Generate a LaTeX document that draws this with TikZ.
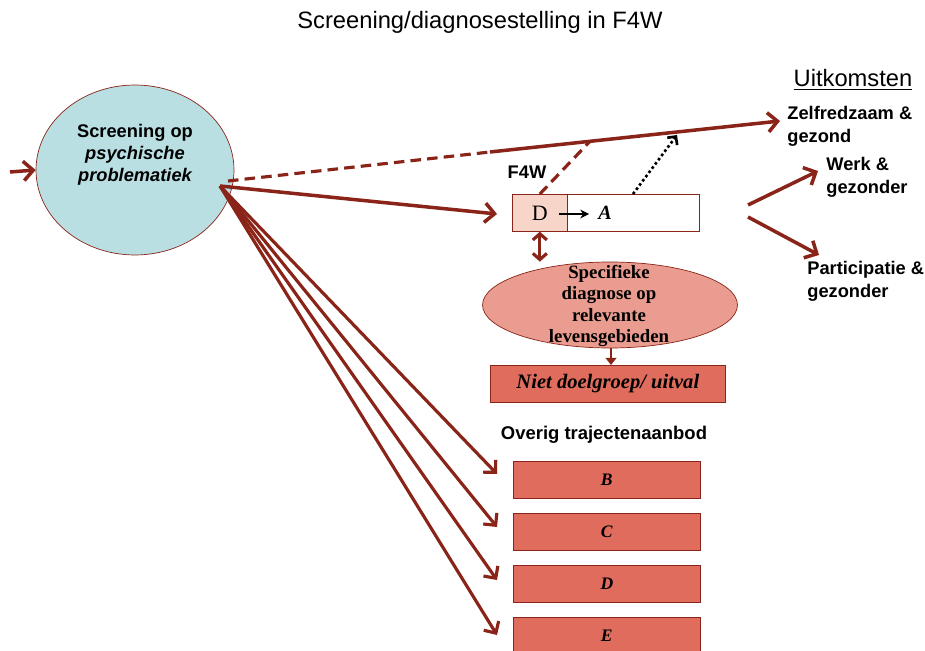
\documentclass[tikz,border=0pt]{standalone}
\usepackage{fontspec}
\setmainfont{Liberation Sans}
\newfontfamily\serifft{Liberation Serif}
\usetikzlibrary{arrows.meta,shapes.geometric}
\definecolor{dred}{RGB}{138,36,24}
\definecolor{scrblue}{RGB}{185,223,227}
\definecolor{dpeach}{RGB}{248,213,201}
\definecolor{diagred}{RGB}{233,156,143}
\definecolor{boxred}{RGB}{224,108,94}
\begin{document}
\begin{tikzpicture}[x=0.02cm,y=-0.02cm,
    arr/.style={draw=dred, line width=2pt, -{Straight Barb[length=5.5pt,width=11pt,line width=2pt]}},
    sarr/.style={draw=dred, line width=1.8pt, -{Straight Barb[length=5pt,width=10pt,line width=1.8pt]}},
    lbl/.style={font=\fontsize{10.4}{13}\selectfont\bfseries, align=left, inner sep=0pt},
    redbox/.style={draw=dred, fill=boxred, minimum width=3.74cm, minimum height=0.74cm, inner sep=0pt,
        font=\serifft\fontsize{10}{12}\selectfont\bfseries\itshape}]
    \useasboundingbox (0,0) rectangle (925,651);
    % titles
    \node[font=\fontsize{13.5}{16}\selectfont] (title) at (480,22) {Screening/diagnosestelling in F4W};
    \node[font=\fontsize{13.5}{16}\selectfont] (uitk) at (853,80) {\underline{Uitkomsten}};
    % screening
    \node[ellipse, draw=dred, fill=scrblue, minimum width=3.96cm, minimum height=3.4cm, inner sep=0pt] (scr) at (135,170) {};
    \node[font=\fontsize{10.4}{12.5}\selectfont\bfseries, align=center, inner sep=0pt] (scrtxt) at (135,155)
        {Screening op\\\itshape psychische\\\itshape problematiek};
    \coordinate (in) at (10,172);
    \draw[arr] (in) -- (scr.west);
    % F4W
    \node[lbl] (f4w) at (527,172) {F4W};
    \node[draw=dred, fill=dpeach, minimum width=1.1cm, minimum height=0.74cm, inner sep=0pt, anchor=north west,
        font=\serifft\fontsize{12.5}{14}\selectfont] (d) at (512,194) {D};
    \node[draw=dred, fill=white, minimum width=2.64cm, minimum height=0.74cm, inner sep=0pt, anchor=north west] (a) at (567,194) {};
    \node[font=\serifft\fontsize{11.5}{13}\selectfont\bfseries\itshape, inner sep=0pt] (atxt) at (605,213) {A};
    \coordinate (dstart) at (559,214);
    \coordinate (dend) at (589,214);
    \draw[-{Stealth[length=5pt,width=5pt]}, semithick] (dstart) -- (dend);
    % diagnose
    \node[ellipse, draw=dred, fill=diagred, minimum width=5.1cm, minimum height=1.72cm, inner sep=0pt] (diag) at (610,305) {};
    \node[font=\serifft\fontsize{10.7}{12.3}\selectfont\bfseries, align=center, inner sep=0pt] (diagtxt) at (609,306)
        {Specifieke\\diagnose op\\relevante\\levensgebieden};
    \draw[draw=dred, line width=1.8pt, {Straight Barb[length=3.5pt,width=8pt]}-{Straight Barb[length=3.5pt,width=8pt]}] (d.south) -- (d.south |- diag.north);
    \node[redbox, minimum width=4.7cm, anchor=north west, font=\serifft\fontsize{11.7}{13}\selectfont\bfseries\itshape] (niet) at (490,365) {Niet doelgroep/ uitval};
    \draw[draw=dred, line width=1.2pt, -{Triangle[length=4pt,width=6pt]}] (611,348) -- (niet.north -| 611,0);
    % overig
    \node[font=\fontsize{10.5}{13}\selectfont\bfseries] (overig) at (604,435) {Overig trajectenaanbod};
    \node[redbox, anchor=north west] (b) at (513,461) {B};
    \node[redbox, anchor=north west] (c) at (513,513) {C};
    \node[redbox, anchor=north west] (dd) at (513,565) {D};
    \node[redbox, anchor=north west] (e) at (513,617) {E};
    % arrows from screening
    \coordinate (fan) at (220,186);
    \draw[arr] (fan) -- (497,214);
    \draw[sarr] (fan) -- (497,474);
    \draw[sarr] (fan) -- (497,527);
    \draw[sarr] (fan) -- (497,580);
    \draw[sarr] (fan) -- (497,635);
    % uitkomsten
    \node[lbl, anchor=west] (zelf) at (787,126) {Zelfredzaam \&\\gezond};
    \node[lbl, anchor=west] (werk) at (826,177) {Werk \&\\gezonder};
    \node[lbl, anchor=west] (part) at (807,281) {Participatie \&\\gezonder};
    \coordinate (brk) at (490,152);
    \coordinate (j) at (590,141.3);
    \draw[draw=dred, line width=1.8pt, dash pattern=on 6pt off 3.5pt] (228,181) -- (brk);
    \draw[arr] (brk) -- (780,121);
    \draw[draw=dred, line width=1.8pt, dash pattern=on 6pt off 3.5pt] (d.north) -- (j);
    \draw[line width=1.5pt, dash pattern=on 1.5pt off 1.5pt, -{Straight Barb[length=3.5pt,width=7pt,line width=1.5pt]}] (633,194) -- (677,135);
    \coordinate (o1) at (748,205);
    \coordinate (o2) at (748,217);
    \draw[arr] (o1) -- (818,171);
    \draw[arr] (o2) -- (819,255);
\end{tikzpicture}
\end{document}
